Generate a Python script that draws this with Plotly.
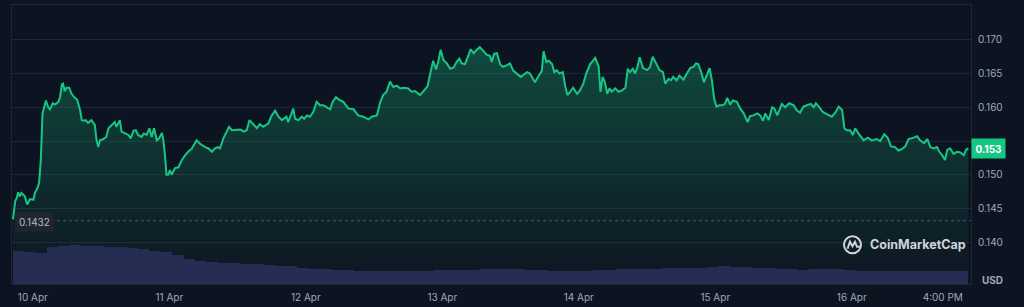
import pandas as pd
import plotly.graph_objects as go

# ---------------- data ----------------
start_time = pd.Timestamp("2024-04-09 20:30")

price_hours = [
    0.0, 0.4, 0.7, 0.9, 1.2, 1.5, 2.1, 2.5, 3.0, 3.6, 3.9, 4.3, 4.6, 4.9, 5.2, 5.5, 5.8, 6.2, 6.5, 7.0,
    7.4, 8.0, 8.3, 8.6, 8.8, 9.1, 9.4, 9.9, 10.3, 10.9, 11.3, 11.8, 12.1, 12.4, 12.8, 13.2, 13.8, 14.4, 14.7, 15.0,
    15.3, 15.9, 16.4, 16.8, 17.4, 17.9, 18.2, 18.8, 19.1, 19.7, 20.3, 20.7, 21.2, 21.6, 22.0, 22.6, 23.0, 23.5, 24.0, 24.4,
    24.8, 25.3, 25.7, 26.2, 26.4, 26.7, 27.0, 27.3, 27.6, 27.9, 28.5, 29.1, 29.7, 30.3, 30.8, 31.4, 32.3, 32.9, 33.8, 34.4,
    35.0, 35.5, 36.1, 36.4, 37.0, 37.6, 38.0, 38.5, 39.3, 40.0, 40.6, 41.1, 41.6, 42.3, 42.9, 43.4, 44.0, 44.9, 45.5, 46.1,
    46.7, 47.3, 48.1, 48.4, 49.0, 49.3, 49.6, 50.2, 50.8, 51.2, 51.7, 52.2, 52.8, 53.4, 54.0, 54.6, 55.2, 55.8, 56.2, 56.8,
    57.4, 58.1, 59.0, 59.9, 60.7, 61.6, 62.5, 63.1, 64.0, 64.6, 65.1, 65.7, 66.3, 66.9, 67.5, 68.1, 68.7, 69.5, 70.1, 70.7,
    71.6, 72.2, 72.9, 73.4, 73.9, 74.4, 74.8, 75.2, 75.7, 76.3, 76.9, 77.5, 78.0, 78.5, 78.9, 79.5, 80.1, 80.5, 81.0, 81.4,
    82.1, 82.7, 83.3, 83.9, 84.2, 84.6, 85.1, 85.7, 86.2, 86.8, 87.4, 88.0, 88.6, 89.3, 89.9, 90.4, 90.9, 91.5, 91.8, 92.4,
    93.0, 93.3, 93.8, 94.2, 94.8, 95.2, 95.6, 96.1, 96.7, 97.1, 97.5, 98.0, 98.5, 99.2, 99.7, 100.3, 100.8, 101.5, 102.4, 103.0,
    103.3, 103.7, 104.1, 104.5, 104.9, 105.3, 105.9, 106.5, 107.1, 107.7, 108.1, 108.5, 109.0, 109.4, 109.8, 110.2, 110.8, 111.5, 112.0, 112.5,
    113.1, 113.7, 114.3, 114.7, 115.3, 115.7, 116.1, 116.7, 117.2, 117.9, 118.5, 119.1, 119.7, 120.1, 120.5, 121.1, 121.5, 122.0, 122.5, 122.9,
    123.3, 123.7, 124.2, 124.8, 125.2, 125.6, 126.1, 126.6, 127.3, 127.9, 128.5, 129.2, 129.6, 130.2, 130.9, 131.4, 131.9, 132.3, 132.9, 133.5,
    133.9, 134.4, 135.2, 135.8, 136.5, 137.3, 137.8, 138.4, 139.0, 139.6, 140.3, 140.8, 141.2, 141.8, 142.4, 143.1, 144.0, 144.6, 145.2, 145.8,
    146.2, 146.6, 147.2, 147.7, 148.1, 148.7, 149.6, 150.3, 151.0, 151.9, 152.5, 153.2, 153.8, 154.4, 155.1, 155.7, 156.3, 156.9, 157.5, 158.4,
    159.0, 159.5, 160.2, 160.8, 161.3, 161.9, 162.5, 162.9, 163.4, 163.9, 164.3, 164.8, 165.4, 166.0, 166.6, 167.2, 167.6, 168.0,
]

price_values = [
    0.1434, 0.1461, 0.1466, 0.1474, 0.1468, 0.1473, 0.1468, 0.1456, 0.1464, 0.1463, 0.1474, 0.1480, 0.1488, 0.1522, 0.1591, 0.1600, 0.1610, 0.1600, 0.1597, 0.1606,
    0.1604, 0.1608, 0.1616, 0.1634, 0.1635, 0.1624, 0.1629, 0.1629, 0.1620, 0.1614, 0.1611, 0.1596, 0.1581, 0.1580, 0.1581, 0.1577, 0.1581, 0.1574, 0.1551, 0.1541,
    0.1551, 0.1553, 0.1556, 0.1569, 0.1574, 0.1578, 0.1571, 0.1581, 0.1564, 0.1562, 0.1559, 0.1554, 0.1565, 0.1566, 0.1559, 0.1556, 0.1561, 0.1559, 0.1569, 0.1556,
    0.1569, 0.1551, 0.1554, 0.1562, 0.1554, 0.1532, 0.1500, 0.1500, 0.1507, 0.1500, 0.1510, 0.1511, 0.1522, 0.1529, 0.1534, 0.1538, 0.1551, 0.1546, 0.1541, 0.1539,
    0.1534, 0.1539, 0.1541, 0.1539, 0.1554, 0.1564, 0.1571, 0.1566, 0.1566, 0.1567, 0.1564, 0.1566, 0.1581, 0.1574, 0.1569, 0.1575, 0.1571, 0.1576, 0.1588, 0.1595,
    0.1586, 0.1581, 0.1586, 0.1578, 0.1591, 0.1598, 0.1583, 0.1581, 0.1586, 0.1583, 0.1588, 0.1586, 0.1593, 0.1608, 0.1603, 0.1603, 0.1600, 0.1597, 0.1608, 0.1615,
    0.1611, 0.1608, 0.1598, 0.1597, 0.1588, 0.1586, 0.1582, 0.1586, 0.1588, 0.1608, 0.1618, 0.1623, 0.1638, 0.1630, 0.1632, 0.1628, 0.1629, 0.1628, 0.1623, 0.1624,
    0.1618, 0.1624, 0.1631, 0.1651, 0.1669, 0.1656, 0.1668, 0.1685, 0.1670, 0.1665, 0.1657, 0.1659, 0.1667, 0.1672, 0.1665, 0.1664, 0.1676, 0.1686, 0.1680, 0.1684,
    0.1689, 0.1684, 0.1678, 0.1676, 0.1667, 0.1679, 0.1680, 0.1663, 0.1660, 0.1662, 0.1665, 0.1654, 0.1650, 0.1645, 0.1649, 0.1652, 0.1650, 0.1642, 0.1637, 0.1646,
    0.1654, 0.1683, 0.1667, 0.1669, 0.1664, 0.1652, 0.1655, 0.1650, 0.1652, 0.1632, 0.1618, 0.1623, 0.1629, 0.1620, 0.1625, 0.1635, 0.1650, 0.1664, 0.1673, 0.1660,
    0.1623, 0.1645, 0.1637, 0.1620, 0.1628, 0.1623, 0.1628, 0.1623, 0.1625, 0.1629, 0.1657, 0.1652, 0.1657, 0.1650, 0.1659, 0.1674, 0.1658, 0.1655, 0.1659, 0.1675,
    0.1664, 0.1655, 0.1652, 0.1635, 0.1642, 0.1640, 0.1645, 0.1640, 0.1647, 0.1641, 0.1650, 0.1658, 0.1660, 0.1665, 0.1664, 0.1650, 0.1637, 0.1647, 0.1658, 0.1640,
    0.1613, 0.1601, 0.1603, 0.1603, 0.1605, 0.1614, 0.1604, 0.1610, 0.1608, 0.1598, 0.1591, 0.1578, 0.1587, 0.1588, 0.1591, 0.1588, 0.1580, 0.1591, 0.1581, 0.1600,
    0.1598, 0.1588, 0.1605, 0.1600, 0.1606, 0.1603, 0.1596, 0.1592, 0.1601, 0.1603, 0.1605, 0.1600, 0.1606, 0.1600, 0.1593, 0.1590, 0.1586, 0.1592, 0.1601, 0.1596,
    0.1569, 0.1566, 0.1566, 0.1559, 0.1569, 0.1561, 0.1551, 0.1555, 0.1551, 0.1553, 0.1550, 0.1560, 0.1555, 0.1542, 0.1541, 0.1536, 0.1538, 0.1542, 0.1553, 0.1555,
    0.1557, 0.1551, 0.1547, 0.1553, 0.1541, 0.1539, 0.1541, 0.1534, 0.1529, 0.1522, 0.1537, 0.1539, 0.1531, 0.1534, 0.1533, 0.1529, 0.1537, 0.1539,
]

# volume, 2-hour buckets (arbitrary units)
volume_values = [
    33, 32, 31, 37, 38.5, 39, 38.5, 38, 37.5, 37, 36, 35, 33, 32, 29, 25, 23, 22.5, 21.5, 21,
    20.5, 20, 19, 18.5, 18, 16.5, 15, 15, 14.3, 14, 13.5, 12.7, 13.3, 13.3, 13, 13, 13.5, 14, 14, 14.5,
    14.5, 15, 15, 15, 15, 14.5, 14.3, 13.5, 13, 12.7, 13.5, 14.3, 14.5, 14.7, 15, 15, 15, 16, 16, 15.7,
    16.3, 17, 17.7, 17.5, 16.7, 16.5, 16.3, 15, 14.7, 14.5, 15, 15, 15, 14.5, 13.5, 13.3, 13.3, 13.3, 13.3, 12.7,
    12.7, 12.7, 12.7, 12.7,
]

day_ticks = ["2024-04-10", "2024-04-11", "2024-04-12", "2024-04-13", "2024-04-14", "2024-04-15", "2024-04-16", "2024-04-16 16:00"]
day_labels = ["10 Apr", "11 Apr", "12 Apr", "13 Apr", "14 Apr", "15 Apr", "16 Apr", "4:00 PM"]
price_ticks = [0.140, 0.145, 0.150, 0.155, 0.160, 0.165, 0.170]
price_tick_labels = ["0.140", "0.145", "0.150", "", "0.160", "0.165", "0.170"]
open_price = 0.1432
open_price_label = "0.1432"
last_price_label = "0.153"

# ---------------- styling ----------------
BG = "#0d1421"
GRID = "#1f2532"
GREEN = "#16c784"
TXT = "#a1a7bb"
FONT = "Inter"

W, H = 1024, 307
ML, MR, MT, MB = 12, 53, 4, 22
PW, PH = W - ML - MR, H - MT - MB

price_times = start_time + pd.to_timedelta(price_hours, unit="h")
vol_times = pd.date_range(start_time + pd.Timedelta(hours=1), periods=len(volume_values), freq="2h")

fig = go.Figure()

fig.add_trace(go.Bar(
    x=vol_times, y=volume_values, yaxis="y2",
    marker=dict(color="#262d52", line=dict(width=0)),
    width=2 * 3600 * 1000, hoverinfo="skip", showlegend=False,
))

fig.add_trace(go.Scatter(
    x=price_times, y=price_values, mode="lines",
    line=dict(color=GREEN, width=2),
    fill="tozeroy",
    fillgradient=dict(
        type="vertical",
        colorscale=[[0, "rgba(22,199,132,0.0)"], [1, "rgba(22,199,132,0.30)"]],
        start=0.1338, stop=0.169,
    ),
    showlegend=False,
))

def px_x(x):
    return (x - ML) / PW

def px_y(y):
    return (H - MB - y) / PH

shapes = [
    # baseline (open price) dotted line
    dict(type="line", xref="paper", yref="y", x0=px_x(51), x1=1, y0=open_price, y1=open_price,
         line=dict(color="#4d5467", width=1, dash="dot")),
    # CoinMarketCap logo
    dict(type="circle", xref="paper", yref="paper", xsizemode="pixel", ysizemode="pixel",
         xanchor=px_x(852.5), yanchor=px_y(245.5), x0=-8.5, x1=8.5, y0=-8.5, y1=8.5,
         line=dict(color="#d0d4dc", width=2)),
    dict(type="path", xref="paper", yref="paper", xsizemode="pixel", ysizemode="pixel",
         xanchor=px_x(852.5), yanchor=px_y(245.5),
         path="M -5 -4 L -2.5 3 L 0 -1.5 L 2.5 3 L 4.5 -2 L 8 -2",
         line=dict(color="#d0d4dc", width=2)),
]

annotations = [
    dict(xref="paper", yref="y", x=px_x(15), y=open_price, xanchor="left", yanchor="middle",
         text=open_price_label, showarrow=False, font=dict(family=FONT, size=10, color="#b4bacb"),
         bgcolor="#20252f", borderpad=3, yshift=-1),
    dict(xref="paper", yref="y", x=1, y=price_values[-1], xanchor="left", yanchor="middle",
         text="<b>" + last_price_label + "</b>", showarrow=False,
         font=dict(family=FONT, size=10, color="#ffffff"),
         bgcolor=GREEN, borderpad=3, width=27, height=13),
    dict(xref="paper", yref="paper", x=px_x(992), y=px_y(281), xanchor="center", yanchor="middle",
         text="<b>USD</b>", showarrow=False, font=dict(family=FONT, size=10, color=TXT)),
    dict(xref="paper", yref="paper", x=px_x(868), y=px_y(245), xanchor="left", yanchor="middle",
         text="<b>CoinMarketCap</b>", showarrow=False,
         font=dict(family=FONT, size=12.5, color="#d0d4dc")),
]

x0 = start_time - pd.Timedelta(minutes=10)
x1 = start_time + pd.Timedelta(hours=168, minutes=28)

fig.update_layout(
    width=W, height=H,
    margin=dict(l=ML, r=MR, t=MT, b=MB, pad=0),
    paper_bgcolor=BG, plot_bgcolor=BG,
    font=dict(family=FONT, size=10, color=TXT),
    bargap=0,
    xaxis=dict(
        range=[x0, x1], type="date",
        tickvals=day_ticks, ticktext=day_labels,
        showgrid=False, zeroline=False,
        showline=True, linecolor=GRID, linewidth=1, mirror=True,
        ticks="outside", ticklen=4, tickcolor=BG,
        tickfont=dict(family=FONT, size=10, color=TXT),
    ),
    yaxis=dict(
        range=[0.13382, 0.17515], side="right",
        tickvals=price_ticks, ticktext=price_tick_labels,
        showgrid=True, gridcolor=GRID, gridwidth=1, zeroline=False,
        showline=True, linecolor=GRID, linewidth=1, mirror=True,
        ticks="outside", ticklen=4, tickcolor=BG,
        tickfont=dict(family=FONT, size=10, color=TXT),
    ),
    yaxis2=dict(range=[0, PH], overlaying="y", visible=False, fixedrange=True),
    shapes=shapes,
    annotations=annotations,
    showlegend=False,
)

fig.write_html("out.html", config={"displayModeBar": False})
